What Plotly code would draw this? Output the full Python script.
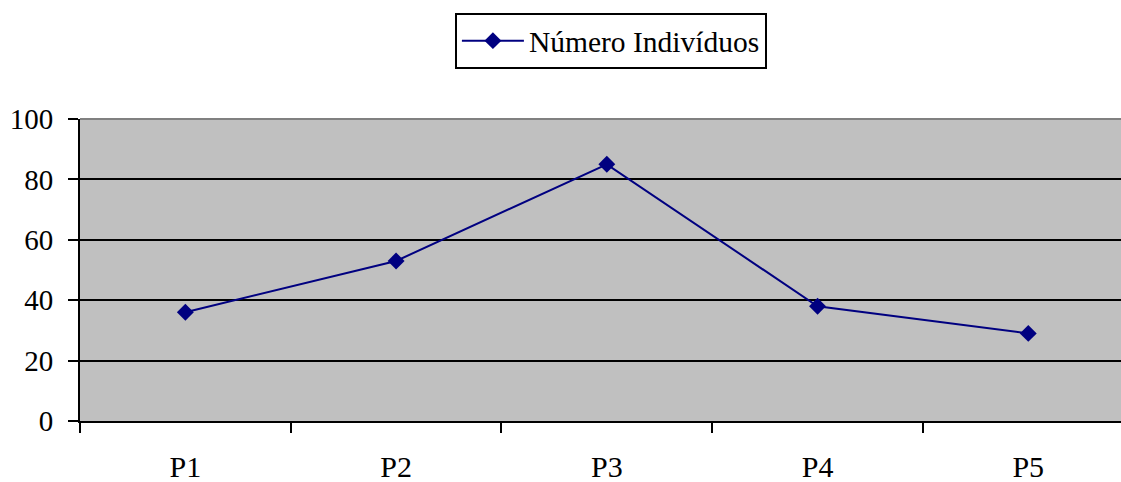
import plotly.graph_objects as go

categories = ["P1", "P2", "P3", "P4", "P5"]
values = [36, 53, 85, 38, 29]
series_name = "Número Indivíduos"
y_ticks = [0, 20, 40, 60, 80, 100]

FONT = "Liberation Serif"

fig = go.Figure()
fig.add_trace(go.Scatter(
    x=categories, y=values, name=series_name, mode="lines+markers",
    line=dict(color="#000080", width=2),
    marker=dict(symbol="diamond", size=13, color="#000080"),
    showlegend=True,
))

fig.update_layout(
    width=1121, height=482,
    margin=dict(l=80, r=0, t=119, b=61, autoexpand=False),
    paper_bgcolor="white", plot_bgcolor="#C0C0C0",
    font=dict(family=FONT, size=30, color="black"),
    legend=dict(
        x=0.51, xanchor="center", y=1.351, yanchor="top",
        bgcolor="white", bordercolor="black", borderwidth=2,
        font=dict(family=FONT, size=29.5, color="black"),
        itemwidth=62,
    ),
    xaxis=dict(
        type="category", range=[-0.5, 4.44],
        showgrid=False, showline=True, linecolor="black", linewidth=2,
        ticks="outside", tickson="boundaries", ticklen=10, tickwidth=2, tickcolor="black",
        ticklabelstandoff=18, zeroline=False,
    ),
    yaxis=dict(
        range=[0, 100], tickvals=y_ticks,
        showgrid=True, gridcolor="black", gridwidth=2,
        showline=True, linecolor="black", linewidth=2,
        ticks="outside", ticklen=10, tickwidth=2, tickcolor="black",
        ticklabelstandoff=9, zeroline=False,
        tickfont=dict(family=FONT, size=29, color="black"),
    ),
    shapes=[dict(type="line", xref="paper", yref="paper", x0=0, x1=1, y0=1, y1=1,
                 line=dict(color="#808080", width=2), layer="above")],
)

fig.write_html("out.html", config={"displayModeBar": False},
               post_script="document.body.style.margin='0';document.body.style.overflow='hidden';")
